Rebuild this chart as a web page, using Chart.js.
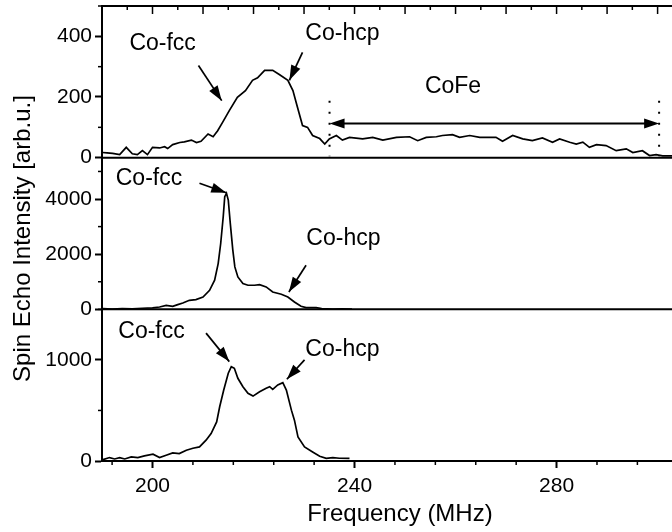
<!DOCTYPE html>
<html>
<head>
<meta charset="utf-8">
<script src="https://cdn.jsdelivr.net/npm/chart.js@4.4.1/dist/chart.umd.min.js"></script>
<style>
  html, body { margin: 0; padding: 0; background: #fff; overflow: hidden; }
</style>
</head>
<body>
<canvas id="nmrChart" width="700" height="532"></canvas>
<script>
// top panel (CoFe region visible)
const topFreq = [190.1, 191.0, 192.1, 193.5, 194.8, 196.0, 197.0, 198.0, 199.0, 200.0, 201.4, 202.4, 203.0, 204.0, 205.4, 206.3, 207.7, 208.7, 209.6, 211.0, 212.0, 212.9, 213.9, 215.2, 216.8, 218.4, 219.8, 220.8, 222.2, 223.8, 225.1, 226.8, 227.8, 228.7, 229.7, 230.7, 231.7, 233.1, 234.1, 235.0, 236.4, 237.6, 239.0, 241.6, 243.6, 245.6, 248.3, 250.9, 252.5, 254.2, 256.2, 257.4, 259.4, 260.8, 262.8, 264.8, 268.0, 269.3, 271.3, 273.3, 275.2, 277.2, 279.2, 280.6, 282.6, 283.9, 285.2, 286.5, 287.9, 289.8, 291.8, 293.8, 295.1, 297.0, 298.4, 299.7, 301.0, 303.0, 304.5, 306.0];
const topSignal = [17, 16, 14, 10, 34, 13, 10, 23, 10, 34, 32, 36, 30, 43, 50, 52, 58, 50, 54, 78, 69, 89, 117, 155, 199, 221, 255, 263, 288, 288, 274, 255, 221, 166, 106, 100, 73, 63, 45, 62, 73, 58, 67, 62, 67, 58, 67, 69, 56, 67, 69, 73, 76, 67, 73, 67, 67, 54, 73, 62, 56, 65, 51, 62, 51, 45, 51, 34, 43, 40, 23, 29, 17, 23, 7, 10, 6, 6, 5, 4];

// middle panel
const midFreq = [190.2, 192.0, 194.0, 196.0, 198.0, 200.0, 201.4, 202.7, 204.0, 205.0, 206.0, 207.3, 208.6, 210.0, 211.3, 212.3, 213.0, 213.5, 214.0, 214.3, 214.65, 215.0, 215.4, 215.9, 216.3, 216.9, 217.9, 218.9, 220.2, 221.2, 222.5, 223.8, 225.5, 226.8, 228.1, 229.4, 230.4, 232.4, 233.5, 235.7, 237.5, 239.5];
const midSignal = [25, 10, 30, 15, 40, 50, 85, 145, 109, 170, 230, 327, 352, 448, 691, 1055, 1660, 2388, 3357, 4085, 4206, 3964, 3115, 2145, 1539, 1176, 933, 873, 873, 897, 812, 630, 545, 448, 267, 109, 61, 61, 30, 12, 20, 5];

// bottom panel
const botFreq = [190.2, 191.5, 192.5, 193.5, 194.5, 195.8, 197.1, 198.4, 200.1, 201.4, 202.7, 204.0, 205.3, 206.7, 208.0, 209.3, 210.6, 211.6, 212.7, 213.3, 214.1, 215.0, 215.6, 216.2, 216.9, 217.9, 218.9, 219.9, 221.2, 222.5, 223.2, 223.8, 224.8, 225.8, 226.5, 227.5, 228.1, 228.8, 230.1, 231.7, 233.1, 234.4, 235.7, 237.0, 239.0];
const botSignal = [14, 34, 20, 34, 20, 40, 34, 50, 67, 34, 57, 80, 73, 106, 126, 139, 206, 272, 387, 536, 702, 868, 933, 917, 818, 735, 669, 642, 685, 719, 735, 709, 752, 775, 702, 503, 404, 238, 139, 89, 47, 27, 34, 27, 25];

// tick positions
const bottomTicks = [192, 200, 208, 216, 224, 232, 240, 248, 256, 264, 272, 280, 288, 296, 304];
const topTicks = [190, 195, 200, 205, 210, 215, 220, 225, 230, 235, 240, 245, 250, 255, 260, 265, 270, 275, 280, 285, 290, 295, 300, 305];
const topPanelTicks = [0, 100, 200, 300, 400, 500];
const midPanelTicks = [0, 1000, 2000, 3000, 4000, 5000];
const botPanelTicks = [0, 500, 1000, 1500];

const FONT = '"Liberation Sans", Arial, sans-serif';

function pts(xs, ys) {
    return xs.map((x, i) => ({x: x, y: ys[i]}));
}

function isMajor(v, major) {
    return Math.abs(v / major - Math.round(v / major)) < 1e-6;
}

// labels and arrows, in data coordinates of each panel
const notes = [
    {axis: 'yTop', text: 'Co-fcc', x: 202, y: 377, from: [209.1, 304], to: [213.7, 188]},
    {axis: 'yTop', text: 'Co-hcp', x: 237.6, y: 410, from: [229.7, 347], to: [227.1, 255]},
    {axis: 'yMid', text: 'Co-fcc', x: 199.3, y: 4727, from: [209.3, 4570], to: [214.6, 4230]},
    {axis: 'yMid', text: 'Co-hcp', x: 237.8, y: 2545, from: [230.4, 1600], to: [227.0, 630]},
    {axis: 'yBot', text: 'Co-fcc', x: 199.8, y: 1281, from: [210.6, 1265], to: [215.2, 983]},
    {axis: 'yBot', text: 'Co-hcp', x: 237.6, y: 1099, from: [230.1, 1000], to: [226.6, 808]}
];

function arrowHead(ctx, x1, y1, x2, y2) {
    const a = Math.atan2(y2 - y1, x2 - x1);
    const len = 15, half = 5;
    ctx.beginPath();
    ctx.moveTo(x2, y2);
    ctx.lineTo(x2 - len * Math.cos(a) + half * Math.sin(a), y2 - len * Math.sin(a) - half * Math.cos(a));
    ctx.lineTo(x2 - len * Math.cos(a) - half * Math.sin(a), y2 - len * Math.sin(a) + half * Math.cos(a));
    ctx.closePath();
    ctx.fill();
}

function arrow(ctx, x1, y1, x2, y2) {
    ctx.beginPath();
    ctx.moveTo(x1, y1);
    ctx.lineTo(x2, y2);
    ctx.stroke();
    arrowHead(ctx, x1, y1, x2, y2);
}

const extras = {
    id: 'extras',
    afterDraw(chart) {
        const ctx = chart.ctx;
        const area = chart.chartArea;
        const xs = chart.scales.x;
        const panels = ['yTop', 'yMid', 'yBot'].map(id => chart.scales[id]);
        ctx.save();
        ctx.strokeStyle = '#000';
        ctx.fillStyle = '#000';

        // top frame + panel dividers
        ctx.lineWidth = 2;
        panels.forEach(s => {
            ctx.beginPath();
            ctx.moveTo(area.left - 1, s.top);
            ctx.lineTo(area.right, s.top);
            ctx.stroke();
        });

        // minor ticks on the y axes
        ctx.lineWidth = 1.5;
        panels.forEach(s => {
            s.ticks.forEach(t => {
                if (!isMajor(t.value, s.options.majorStep)) {
                    const y = s.getPixelForValue(t.value);
                    ctx.beginPath();
                    ctx.moveTo(area.left - 4, y);
                    ctx.lineTo(area.left, y);
                    ctx.stroke();
                }
            });
        });

        // minor ticks on the bottom axis
        xs.ticks.forEach(t => {
            if (!isMajor(t.value, 40)) {
                const x = xs.getPixelForValue(t.value);
                ctx.beginPath();
                ctx.moveTo(x, area.bottom);
                ctx.lineTo(x, area.bottom + 4);
                ctx.stroke();
            }
        });

        // inward ticks on the top frame
        topTicks.forEach(v => {
            const x = xs.getPixelForValue(v);
            ctx.beginPath();
            ctx.moveTo(x, area.top);
            ctx.lineTo(x, area.top + (isMajor(v, 10) ? 8 : 4));
            ctx.stroke();
        });

        // annotations
        ctx.font = '23px ' + FONT;
        ctx.textAlign = 'center';
        ctx.textBaseline = 'middle';
        ctx.lineWidth = 1.7;
        notes.forEach(n => {
            const ys = chart.scales[n.axis];
            ctx.fillText(n.text, xs.getPixelForValue(n.x), ys.getPixelForValue(n.y));
            arrow(ctx, xs.getPixelForValue(n.from[0]), ys.getPixelForValue(n.from[1]),
                xs.getPixelForValue(n.to[0]), ys.getPixelForValue(n.to[1]));
        });

        // CoFe range
        const yT = chart.scales.yTop;
        const xa = xs.getPixelForValue(235.05), xb = xs.getPixelForValue(300.3);
        const ya = yT.getPixelForValue(113);
        ctx.lineWidth = 2;
        ctx.beginPath();
        ctx.moveTo(xa + 10, ya);
        ctx.lineTo(xb - 10, ya);
        ctx.stroke();
        arrowHead(ctx, xb - 20, ya, xa, ya);
        arrowHead(ctx, xa + 20, ya, xb, ya);
        ctx.fillText('CoFe', xs.getPixelForValue(259.5), yT.getPixelForValue(235));

        ctx.setLineDash([2, 9]);
        [xa, xb].forEach(x => {
            ctx.beginPath();
            ctx.moveTo(x, yT.getPixelForValue(188));
            ctx.lineTo(x, yT.getPixelForValue(5));
            ctx.stroke();
        });
        ctx.setLineDash([]);

        // shared y title
        ctx.font = '24px ' + FONT;
        ctx.translate(23, (area.top + area.bottom) / 2 + 5);
        ctx.rotate(-Math.PI / 2);
        ctx.fillText('Spin Echo Intensity [arb.u.]', 0, 0);
        ctx.restore();
    }
};

function yAxis(max, tickList, major) {
    return {
        type: 'linear',
        position: 'left',
        stack: 'panels',
        stackWeight: 1,
        min: 0,
        max: max,
        majorStep: major,
        afterBuildTicks: s => { s.ticks = tickList.map(v => ({value: v})); },
        afterFit: s => { s.width = 102; s.paddingTop = 0; s.paddingBottom = 0; },
        border: {display: true, color: '#000', width: 2},
        grid: {
            drawOnChartArea: false,
            tickLength: 7,
            tickWidth: 2,
            tickColor: c => (c.tick && isMajor(c.tick.value, major)) ? '#000' : 'rgba(0,0,0,0)'
        },
        ticks: {
            autoSkip: false,
            padding: 3,
            color: '#000',
            font: {family: FONT, size: 21},
            callback: v => isMajor(v, major) ? String(v) : ''
        }
    };
}

const line = (d, id) => ({
    data: d,
    yAxisID: id,
    borderColor: '#000',
    borderWidth: 1.7,
    pointRadius: 0,
    tension: 0,
    fill: false
});

new Chart(document.getElementById('nmrChart'), {
    type: 'line',
    data: {
        datasets: [
            line(pts(topFreq, topSignal), 'yTop'),
            line(pts(midFreq, midSignal), 'yMid'),
            line(pts(botFreq, botSignal), 'yBot')
        ]
    },
    options: {
        responsive: false,
        animation: false,
        layout: {padding: {left: 0, top: 6, right: 2, bottom: 0}},
        plugins: {legend: {display: false}, tooltip: {enabled: false}},
        scales: {
            x: {
                type: 'linear',
                min: 190,
                max: 308,
                afterBuildTicks: s => { s.ticks = bottomTicks.map(v => ({value: v})); },
                afterFit: s => { s.height = 71; s.paddingLeft = 0; s.paddingRight = 0; },
                border: {display: true, color: '#000', width: 2},
                grid: {
                    drawOnChartArea: false,
                    tickLength: 7,
                    tickWidth: 2,
                    tickColor: c => (c.tick && isMajor(c.tick.value, 40)) ? '#000' : 'rgba(0,0,0,0)'
                },
                ticks: {
                    autoSkip: false,
                    maxRotation: 0,
                    padding: 6,
                    color: '#000',
                    font: {family: FONT, size: 21},
                    callback: v => isMajor(v, 40) ? String(v) : ''
                },
                title: {
                    display: true,
                    text: 'Frequency (MHz)',
                    color: '#000',
                    font: {family: FONT, size: 24},
                    padding: {top: 2, bottom: 3}
                }
            },
            yBot: yAxis(1500, botPanelTicks, 1000),
            yMid: yAxis(5500, midPanelTicks, 2000),
            yTop: yAxis(500, topPanelTicks, 200)
        }
    },
    plugins: [extras]
});
</script>
</body>
</html>
